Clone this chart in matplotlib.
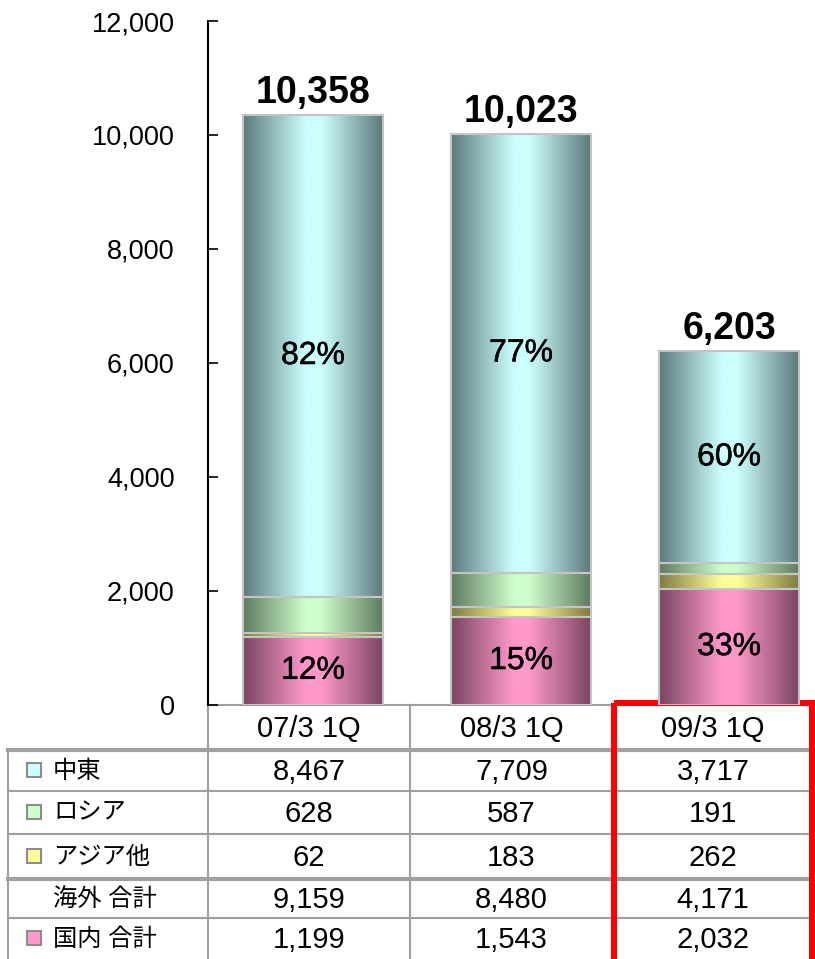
import numpy as np
import matplotlib
matplotlib.use('Agg')
import matplotlib.pyplot as plt
import matplotlib.patheffects as pe
from matplotlib.colors import LinearSegmentedColormap
from matplotlib.patches import Rectangle
from matplotlib.ticker import FuncFormatter

plt.rcParams['font.family'] = ['Liberation Sans', 'Noto Sans CJK JP', 'DejaVu Sans']

# Data
periods = ['07/3 1Q', '08/3 1Q', '09/3 1Q']
middle_east = [8467, 7709, 3717]
russia = [628, 587, 191]
asia_other = [62, 183, 262]
overseas_total = [9159, 8480, 4171]
domestic_total = [1199, 1543, 2032]
grand_total = [10358, 10023, 6203]

row_labels = ['中東', 'ロシア', 'アジア他', '海外 合計', '国内 合計']
row_values = [middle_east, russia, asia_other, overseas_total, domestic_total]

# (values, dark edge colour, light centre colour), bottom to top
stack = [
    (domestic_total, '#7a4560', '#ff99cc'),
    (asia_other, '#807a40', '#ffff99'),
    (russia, '#607a60', '#ccffcc'),
    (middle_east, '#5c7a7a', '#ccffff'),
]
swatch_colors = ['#ccffff', '#ccffcc', '#ffff99', None, '#ff99cc']

# Layout (pixels)
W, H = 815, 959
AX_L, AX_R, AX_T, AX_B = 208, 815, 21, 705

fig = plt.figure(figsize=(W / 100, H / 100), dpi=100)
ax = fig.add_axes([AX_L / W, 1 - AX_B / H, (AX_R - AX_L) / W, (AX_B - AX_T) / H])

x = np.arange(len(periods))
bar_w = 0.673
bottom = np.zeros(len(periods))
grad = np.linspace(0, 1, 256).reshape(1, -1)

for vals, dark, light in stack:
    cmap = LinearSegmentedColormap.from_list(
        'cyl', [(0, dark), (0.45, light), (0.56, light), (1, dark)])
    bars = ax.bar(x, vals, bar_w, bottom=bottom, facecolor='none',
                  edgecolor='#c4c4c4', linewidth=1.5, zorder=3)
    for p in bars:
        im = ax.imshow(grad, cmap=cmap, aspect='auto', interpolation='bilinear',
                       extent=[p.get_x(), p.get_x() + p.get_width(),
                               p.get_y(), p.get_y() + p.get_height()],
                       zorder=2)
        im.set_clip_path(p)
    bottom = bottom + np.array(vals)

# percentage labels (slightly heavier than regular)
heavy = [pe.withStroke(linewidth=0.35, foreground='black')]
me_bottom = np.array(domestic_total) + np.array(asia_other) + np.array(russia)
for i in range(len(periods)):
    pct_me = round(middle_east[i] / grand_total[i] * 100)
    pct_dom = round(domestic_total[i] / grand_total[i] * 100)
    ax.text(x[i], me_bottom[i] + middle_east[i] / 2, f'{pct_me}%',
            ha='center', va='center', fontsize=23, zorder=5, path_effects=heavy)
    ax.text(x[i], domestic_total[i] / 2, f'{pct_dom}%',
            ha='center', va='center', fontsize=23, zorder=5, path_effects=heavy)
    ax.annotate(f'{grand_total[i]:,}', (x[i], bottom[i]), xytext=(0, 3),
                textcoords='offset points', ha='center', va='bottom',
                fontsize=27, fontweight='bold')

ax.set_xlim(-0.505, 2.413)
ax.set_ylim(0, 12000)
ax.set_yticks(np.arange(0, 12001, 2000))
ax.yaxis.set_major_formatter(FuncFormatter(lambda v, _: f'{int(v):,}'))
ax.tick_params(axis='y', direction='in', length=7, width=1.2, labelsize=19.5, pad=24)
ax.set_xticks([])
for s in ['top', 'right', 'bottom']:
    ax.spines[s].set_visible(False)
ax.spines['left'].set_linewidth(1.5)
ax.patch.set_visible(False)

# Data table below the chart
tab = fig.add_axes([0, 0, 1, 1], zorder=-1)
tab.set_xlim(0, W)
tab.set_ylim(H, 0)
tab.axis('off')

col_edges = [208, 410, 613, 813]
row_edges = [705, 750, 791, 834, 879, 918, 959]
grey = '#a0a0a0'
thin, thick = 1.5, 3.0

tab.plot([208, 813], [705, 705], color=grey, lw=thin)
for y in row_edges[1:-1]:
    lw = thick if y in (750, 879) else thin
    tab.plot([8, 813], [y, y], color=grey, lw=lw)
tab.plot([8, 8], [750, 959], color=grey, lw=thin)
for cx in col_edges:
    tab.plot([cx, cx], [705, 959], color=grey, lw=thin)

col_centers = [(a + b) / 2 for a, b in zip(col_edges[:-1], col_edges[1:])]
for j, lab in enumerate(periods):
    tab.text(col_centers[j], (row_edges[0] + row_edges[1]) / 2 + 1, lab,
             ha='center', va='center', fontsize=21)

for r, (lab, vals) in enumerate(zip(row_labels, row_values)):
    yc = (row_edges[r + 1] + row_edges[r + 2]) / 2
    tab.text(53, yc + 1, lab, ha='left', va='center', fontsize=17.5)
    if swatch_colors[r] is not None:
        tab.add_patch(Rectangle((27, yc - 8), 14, 14, facecolor=swatch_colors[r],
                                edgecolor='#8c8c8c', lw=1.5))
    for j, v in enumerate(vals):
        tab.text(col_centers[j], yc + 1, f'{v:,}', ha='center', va='center', fontsize=21)

# highlight box around latest quarter
tab.add_patch(Rectangle((614, 703), 198, 262, facecolor='none',
                        edgecolor='#ff0000', lw=4.3, clip_on=False, zorder=10))

fig.savefig('out.png', dpi=100)
